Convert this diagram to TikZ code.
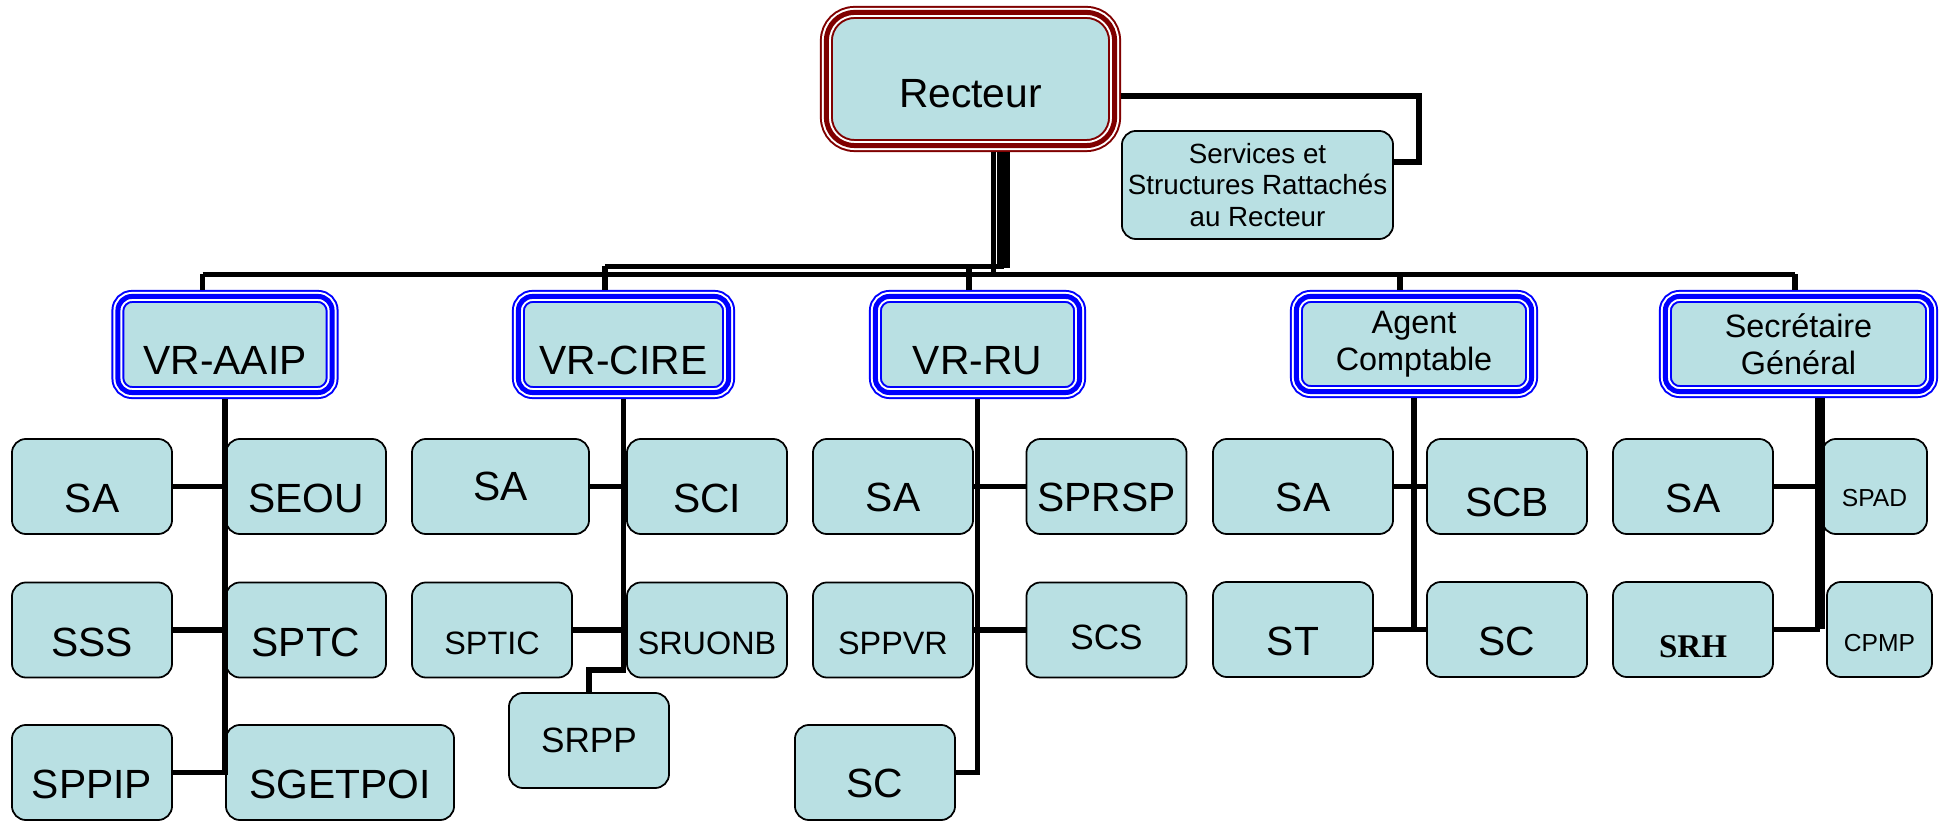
\documentclass[tikz,border=0pt]{standalone}
\usepackage{fontspec}
\setmainfont{Liberation Sans}
\newfontfamily\srhfont{Liberation Serif}
\usepackage{tikz}
\usetikzlibrary{positioning}
\usepackage{xcolor}
\definecolor{boxfill}{RGB}{185,224,227}
\definecolor{rectred}{RGB}{128,0,0}
\definecolor{vrblue}{RGB}{0,0,255}
\newcommand{\bigtxt}{\fontsize{11.6}{13.5}\selectfont}
\newcommand{\midtxt}{\fontsize{9.2}{10.6}\selectfont}
\newcommand{\svctxt}{\fontsize{7.9}{9}\selectfont}
\newcommand{\tinytxt}{\fontsize{7}{8}\selectfont}

\tikzset{
  chef/.style={fill=boxfill, rounded corners=0.14cm, outer sep=0.065cm, inner sep=0pt, align=center,
    postaction={draw=#1, line width=0.13cm},
    postaction={draw=white, line width=0.09cm},
    postaction={draw=#1, line width=0.05cm}},
  leaf/.style={draw, line width=0.5pt, fill=boxfill, rounded corners=0.14cm, inner sep=1pt,
    minimum height=0.95cm, minimum width=1.6cm, align=center, font=\bigtxt},
  low/.style={text height=#1pt, text depth=0pt},
  conn/.style={line width=0.055cm}
}

\begin{document}
\begin{tikzpicture}[x=0.01cm,y=-0.01cm]
\useasboundingbox (0,0) rectangle (1947,822);
\node[chef=rectred, rounded corners=0.28cm, minimum width=2.88cm, minimum height=1.33cm, font=\bigtxt, low=16] (recteur) at (970.5,79) {Recteur};
\node[leaf, font=\svctxt, minimum width=2.71cm, minimum height=1.08cm] (services) at (1257.5,185) {Services et\\Structures Rattachés\\au Recteur};
\node[chef=vrblue, minimum width=2.14cm, minimum height=0.96cm, font=\bigtxt, low=16.8] (vaaip) at (225,344.5) {VR-AAIP};
\node[chef=vrblue, minimum width=2.10cm, minimum height=0.96cm, font=\bigtxt, low=16.8] (vcire) at (623.5,344.5) {VR-CIRE};
\node[chef=vrblue, minimum width=2.04cm, minimum height=0.96cm, font=\bigtxt, low=16.8] (vru) at (977.5,344.5) {VR-RU};
\node[chef=vrblue, minimum width=2.35cm, minimum height=0.95cm, font=\midtxt] (agent) at (1414,344) {Agent\\Comptable};
\node[chef=vrblue, minimum width=2.66cm, minimum height=0.95cm, font=\midtxt] (sg) at (1798.5,344) {Secrétaire\\Général};
\node[leaf, low=15] (aSA) at (92,486.5) {SA};
\node[leaf, low=15] (aSEOU) at (306,486.5) {SEOU};
\node[leaf, low=15] (aSSS) at (92,630) {SSS};
\node[leaf, low=15] (aSPTC) at (306,630) {SPTC};
\node[leaf, low=15] (aSPPIP) at (92,772.5) {SPPIP};
\node[leaf, low=15, minimum width=2.28cm] (aSGETPOI) at (340,772.5) {SGETPOI};
\node[leaf, minimum width=1.77cm] (cSA) at (500.5,486.5) {SA};
\node[leaf, low=15] (cSCI) at (707,486.5) {SCI};
\node[leaf, font=\midtxt, low=14] (cSPTIC) at (492,630) {SPTIC};
\node[leaf, font=\midtxt, low=14] (cSRUONB) at (707,630) {SRUONB};
\node[leaf, font=\fontsize{10}{12}\selectfont] (cSRPP) at (589,740.5) {SRPP};
\node[leaf, low=14] (rSA) at (893,486.5) {SA};
\node[leaf, low=14] (rSPRSP) at (1106.5,486.5) {SPRSP};
\node[leaf, font=\midtxt, low=14] (rSPPVR) at (893,630) {SPPVR};
\node[leaf, font=\fontsize{10}{12}\selectfont, low=11] (rSCS) at (1106.5,630) {SCS};
\node[leaf, low=14] (rSC) at (875,772.5) {SC};
\node[leaf, low=14.5, minimum width=1.8cm] (gSA) at (1303,486.5) {SA};
\node[leaf, low=16.8] (gSCB) at (1507,486.5) {SCB};
\node[leaf, low=15] (gST) at (1293,629.5) {ST};
\node[leaf, low=15] (gSC) at (1507,629.5) {SC};
\node[leaf, low=15] (sSA) at (1693,486.5) {SA};
\node[leaf, font=\tinytxt, low=11.2, minimum width=1.05cm] (sSPAD) at (1874.5,486.5) {SPAD};
\node[leaf, font=\fontsize{9.4}{11}\srhfont\bfseries, low=15.8] (sSRH) at (1693,629.5) {SRH};
\node[leaf, font=\tinytxt, low=12.6, minimum width=1.05cm] (sCPMP) at (1879.5,629.5) {CPMP};

\coordinate (tAAIP) at (202.5,274.5);
\coordinate (tCIRE) at (605,266.5);
\coordinate (tRU) at (969,266.5);
\coordinate (tAC) at (1400,274.5);
\coordinate (tSG) at (1795,274.5);
\coordinate (trThin) at (993.5,277);
\coordinate (trThick) at (1003.5,268);
\coordinate (sgBus) at (1820,0);

\draw[conn] ([yshift=-0.17cm]recteur.east) -| ([xshift=0.25cm,yshift=0.23cm]services.east) -- ([yshift=0.23cm]services.east);
\draw[conn] (tAAIP) -- (tSG);
\draw[conn] (tCIRE) -- (tCIRE -| trThick);
\draw[conn] (recteur.south -| trThin) -- (trThin);
\draw[conn,line width=0.13cm] (recteur.south -| trThick) -- (trThick);
\foreach \t/\n in {tAAIP/vaaip,tCIRE/vcire,tRU/vru,tAC/agent,tSG/sg}
  \draw[conn] (\t) -- (\t |- \n.north);

\draw[conn] (vaaip.south -| aSEOU.west) |- (aSPPIP.east);
\draw[conn] (aSA.east) -- (aSEOU.west);
\draw[conn] (aSSS.east) -- (aSPTC.west);

\draw[conn] (vcire.south) -- ++(0,271) -| (cSRPP.north);
\draw[conn] (cSA.east) -- (cSA.east -| vcire.south);
\draw[conn] (cSPTIC.east) -- (cSPTIC.east -| vcire.south);

\draw[conn] (vru.south) |- (rSC.east);
\draw[conn] (rSA.east) -- (rSPRSP.west);
\draw[conn] (rSPPVR.east) -- (rSCS.west);

\draw[conn] (agent.south) -- (agent.south |- gSC.west);
\draw[conn] (gSA.east) -- (gSCB.west);
\draw[conn] (gST.east) -- (gSC.west);

\draw[conn,line width=0.1cm] (sg.south -| sgBus) -- (sSRH.east -| sgBus);
\draw[conn] (sSA.east) -- (sSA.east -| sgBus);
\draw[conn] (sSRH.east) -- (sSRH.east -| sgBus);
\end{tikzpicture}
\end{document}
